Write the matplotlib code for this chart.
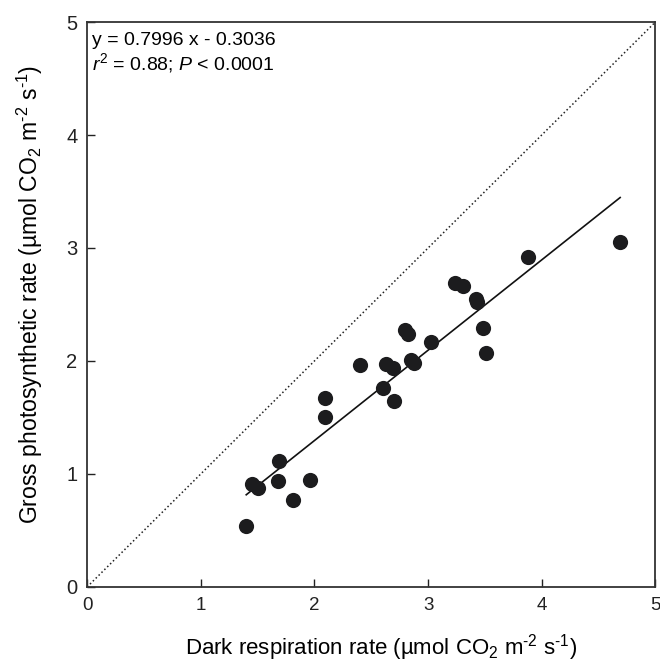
import numpy as np
import matplotlib.pyplot as plt

plt.rcParams['font.family'] = ['Liberation Sans', 'DejaVu Sans']
plt.rcParams['mathtext.fontset'] = 'custom'
plt.rcParams['mathtext.rm'] = 'Liberation Sans'
plt.rcParams['mathtext.it'] = 'Liberation Sans:italic'

# Datos
resp = [1.40, 1.45, 1.50, 1.69, 1.68, 1.81, 1.965, 2.09, 2.09, 2.40, 2.605, 2.63, 2.69,
        2.70, 2.80, 2.82, 2.85, 2.88, 3.03, 3.24, 3.31, 3.42, 3.43, 3.48, 3.51, 3.88, 4.69]
foto = [0.54, 0.91, 0.88, 1.115, 0.94, 0.77, 0.95, 1.675, 1.50, 1.96, 1.76, 1.97, 1.935,
        1.65, 2.27, 2.24, 2.01, 1.98, 2.17, 2.69, 2.66, 2.55, 2.52, 2.295, 2.07, 2.92, 3.05]

# Regresion reportada
pend = 0.7996
inter = -0.3036

x = np.array(resp)
y = np.array(foto)

fig = plt.figure(figsize=(6.6, 6.67), dpi=100)
ax = fig.add_axes([0.132, 0.12, 0.861, 0.847])

ax.plot([0, 5], [0, 5], ':', color='#222222', lw=1.1)
xl = np.array([x.min(), x.max()])
ax.plot(xl, pend * xl + inter, '-', color='#111111', lw=1.2)
ax.scatter(x, y, s=120, color='#1c1c1e', zorder=3, linewidths=0)

ax.set_xlim(0, 5)
ax.set_ylim(0, 5)
ax.set_xticks([0, 1, 2, 3, 4, 5])
ax.set_yticks([0, 1, 2, 3, 4, 5])
ax.tick_params(direction='in', length=6, width=1, pad=7, colors='#222222')
ax.tick_params(axis='x', labelsize=13.5)
ax.tick_params(axis='y', labelsize=14.5)
for s in ax.spines.values():
    s.set_linewidth(1.3)
    s.set_color('#333333')

# guion corto en los exponentes, como en la original
ax.set_xlabel('Dark respiration rate (µmol CO$_2$ m$^{‐2}$ s$^{‐1}$)', fontsize=16)
ax.set_ylabel('Gross photosynthetic rate (µmol CO$_2$ m$^{‐2}$ s$^{‐1}$)', fontsize=16.6)
ax.xaxis.set_label_coords(0.518, -0.08)
ax.yaxis.set_label_coords(-0.075, 0.517)

ax.text(0.008, 0.982, 'y = 0.7996 x - 0.3036\n$r^2$ = 0.88; $P$ < 0.0001',
        transform=ax.transAxes, va='top', ha='left', fontsize=14, linespacing=1.08)

fig.savefig('out.png', dpi=100)
